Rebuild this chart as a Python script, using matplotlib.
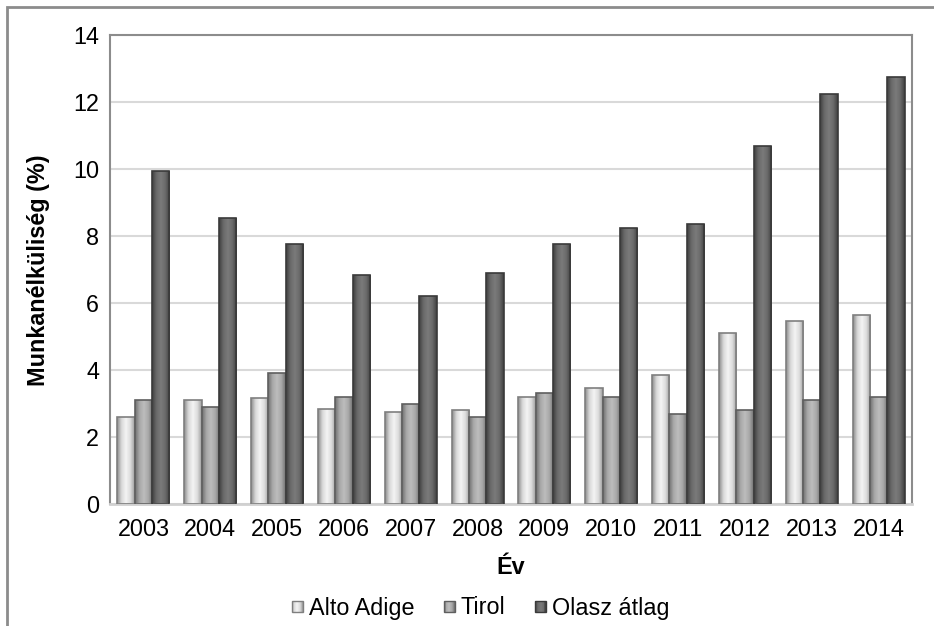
import numpy as np
import matplotlib
matplotlib.use("Agg")
import matplotlib.pyplot as plt
from matplotlib.colors import LinearSegmentedColormap
from matplotlib.patches import Rectangle
from matplotlib.legend_handler import HandlerBase

years = ["2003", "2004", "2005", "2006", "2007", "2008", "2009", "2010", "2011", "2012", "2013", "2014"]
alto_adige = [2.6, 3.1, 3.15, 2.85, 2.75, 2.8, 3.2, 3.45, 3.85, 5.1, 5.45, 5.65]
tirol = [3.1, 2.9, 3.9, 3.2, 3.0, 2.6, 3.3, 3.2, 2.7, 2.8, 3.1, 3.2]
olasz = [9.95, 8.55, 7.75, 6.85, 6.2, 6.9, 7.75, 8.25, 8.35, 10.7, 12.25, 12.75]
series_names = ["Alto Adige", "Tirol", "Olasz átlag"]
yticks = [0, 2, 4, 6, 8, 10, 12, 14]

plt.rcParams['font.family'] = ['Liberation Sans', 'DejaVu Sans']
FS = 16.8

fig = plt.figure(figsize=(9.34, 6.26), dpi=100)
ax = fig.add_axes([110/934, 1 - 504/626, (912-110)/934, (504-35)/626])

styles = [
    dict(stops=["#8a8a8a", "#d8d8d8", "#f4f4f4", "#dcdcdc", "#9a9a9a"], edge="#7f7f7f"),
    dict(stops=["#6e6e6e", "#a8a8a8", "#bdbdbd", "#a8a8a8", "#6e6e6e"], edge="#5f5f5f"),
    dict(stops=["#3e3e3e", "#6a6a6a", "#7a7a7a", "#6a6a6a", "#3e3e3e"], edge="#3a3a3a"),
]
cmaps = [LinearSegmentedColormap.from_list(f"g{i}", st["stops"]) for i, st in enumerate(styles)]

x = np.arange(len(years))
w = 0.26
data = [alto_adige, tirol, olasz]
for i, (vals, st) in enumerate(zip(data, styles)):
    bars = ax.bar(x + (i - 1) * w, vals, width=w, facecolor="none",
                  edgecolor=st["edge"], linewidth=1.2, zorder=3)
    for r in bars:
        bx, by = r.get_x(), r.get_y()
        bw, bh = r.get_width(), r.get_height()
        im = ax.imshow(np.linspace(0, 1, 256)[None, :], cmap=cmaps[i],
                       extent=[bx, bx + bw, by, by + bh], aspect="auto",
                       zorder=2.5, interpolation="bilinear")
        im.set_clip_path(r)

ax.set_xlim(-0.5, len(years) - 0.5)
ax.set_ylim(0, 14)
ax.set_yticks(yticks)
ax.set_yticklabels([str(t) for t in yticks], fontsize=FS)
ax.set_xticks(x)
ax.set_xticklabels(years, fontsize=FS)
ax.tick_params(axis="x", length=0, pad=10)
ax.tick_params(axis="y", length=0, pad=8)
ax.yaxis.grid(True, color="#d9d9d9", linewidth=1.5, zorder=0)
ax.set_axisbelow(True)

for s in ["top", "right", "left"]:
    ax.spines[s].set_color("#8c8c8c")
    ax.spines[s].set_linewidth(1.5)
ax.spines["bottom"].set_color("#d0d0d0")
ax.spines["bottom"].set_linewidth(2)

fig.text(511/934, 1 - 567/626, "Év", fontsize=FS, fontweight="bold", ha="center", va="center")
fig.text(38.5/934, 1 - 270/626, "Munkanélküliség (%)", fontsize=FS, fontweight="bold",
         rotation=90, ha="center", va="center")


class GradHandler(HandlerBase):
    def __init__(self, cmap, edge):
        super().__init__()
        self.cmap = cmap
        self.edge = edge

    def create_artists(self, legend, orig_handle, xdescent, ydescent, width, height, fontsize, trans):
        side = width * 0.8
        x0 = -xdescent + (width - side) / 2
        y0 = -ydescent + (height - side) / 2
        n = 12
        arts = []
        for k in range(n):
            c = self.cmap((k + 0.5) / n)
            arts.append(Rectangle((x0 + side * k / n, y0), side / n * 1.05, side,
                                  facecolor=c, edgecolor="none", transform=trans))
        arts.append(Rectangle((x0, y0), side, side, facecolor="none",
                              edgecolor=self.edge, linewidth=1, transform=trans))
        return arts


handles = [Rectangle((0, 0), 1, 1) for _ in styles]
hmap = {h: GradHandler(cm, st["edge"]) for h, cm, st in zip(handles, cmaps, styles)}
fig.legend(handles, series_names, loc="center", bbox_to_anchor=(480/934, 1 - 608/626),
           ncol=3, frameon=False, fontsize=FS, handlelength=0.6, handleheight=0.6,
           handletextpad=0.2, columnspacing=1.2, borderpad=0, handler_map=hmap)

# outer chart border (top and left visible)
fig.add_artist(Rectangle((7/934, -0.05), 1.2, 1 - 7/626 + 0.05, transform=fig.transFigure,
                         fill=False, edgecolor="#8c8c8c", linewidth=2))

fig.savefig("out.png", dpi=100)
